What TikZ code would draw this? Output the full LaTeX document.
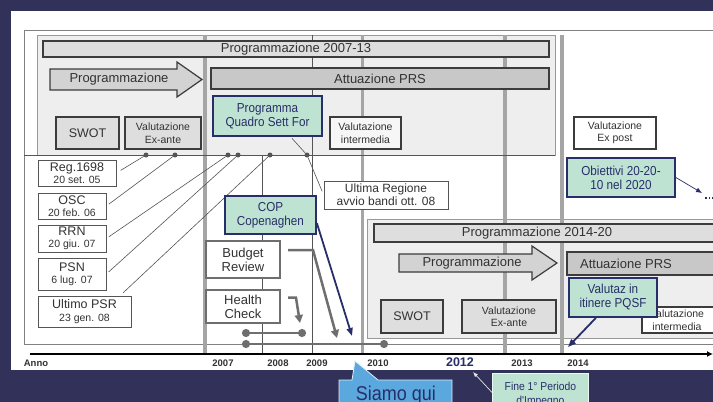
\documentclass[tikz,border=0pt]{standalone}
\usepackage{fontspec}
\setmainfont{Liberation Sans}
\newfontfamily\narrowfont[FakeStretch=0.9]{Liberation Sans}
\usetikzlibrary{arrows.meta}

\definecolor{bgnavy}{RGB}{50,49,90}
\definecolor{panelgray}{RGB}{238,238,238}
\definecolor{bargray}{RGB}{222,222,222}
\definecolor{attgray}{RGB}{200,200,200}
\definecolor{boxline}{RGB}{60,60,60}
\definecolor{txt}{RGB}{50,50,50}
\definecolor{mint}{RGB}{190,227,210}
\definecolor{navy}{RGB}{40,46,105}
\definecolor{vgray}{RGB}{165,165,165}
\definecolor{darkline}{RGB}{85,85,85}
\definecolor{arrgray}{RGB}{110,110,110}
\definecolor{skyblue}{RGB}{90,168,222}

\newcommand{\sottotesto}{\fontsize{10.5}{11}\selectfont}

\begin{document}
\begin{tikzpicture}[x=1pt,y=-1pt,>=latex,
	cornice/.style={draw=gray, line width=0.7pt},
	panel/.style={draw=gray!80, line width=0.6pt, fill=panelgray},
	yearline/.style={draw=vgray, line width=3.5pt},
	thinline/.style={draw=darkline, line width=0.7pt},
	bar/.style={draw=boxline, line width=1.8pt, fill=bargray, text=txt, font=\fontsize{13}{14}\selectfont, inner sep=0pt},
	bigtxt/.style={text=txt, font=\fontsize{13}{14}\selectfont},
	bigarrow/.style={draw=boxline, line width=1.2pt, fill=attgray!80, line join=miter},
	box/.style={draw=boxline, line width=1.8pt, fill=bargray, text=txt, align=center, inner sep=0pt, font=\fontsize{12.5}{14}\selectfont},
	smalltxt/.style={text=txt, align=center, font=\fontsize{10.5}{12.5}\selectfont},
	greenbox/.style={draw=navy, line width=1.8pt, fill=mint, text=navy, align=center, inner sep=0pt, font=\narrowfont\fontsize{13}{14}\selectfont},
	datebox/.style={draw=darkline, line width=0.7pt, fill=white, text=txt, align=center, inner sep=0pt, font=\fontsize{12.5}{12.5}\selectfont},
	graybox/.style={draw=arrgray, line width=2pt, fill=white, text=txt, align=center, inner sep=0pt, font=\fontsize{13}{14}\selectfont},
	dot/.style={circle, fill=darkline, inner sep=0pt, minimum size=5pt},
	lead/.style={draw=darkline, line width=0.6pt},
	grayarrow/.style={draw=arrgray, line width=2.5pt, -{Triangle[length=8pt,width=8pt]}},
	navyarrow/.style={draw=navy, line width=1.8pt, -{Triangle[length=8pt,width=6pt]}},
	dotbar/.style={draw=arrgray, line width=2pt, {Circle[length=8pt]}-{Circle[length=8pt]}},
	year/.style={text=txt, font=\bfseries\fontsize{9.5}{10}\selectfont}]
			%%%	Sfondo
			\useasboundingbox (0,0) rectangle (713,402);
			\clip (0,0) rectangle (713,402);
			\fill[bgnavy] (0,0) rectangle (713,402);
			\fill[white] (11,11) rectangle (713,370);
			\draw[cornice] (713,30) -- (24,30) -- (24,344) -- (713,344);

			%%%	Pannelli
			\draw[panel] (37,35) rectangle (555,155);
			\draw[panel] (367,219) rectangle (718,338);

			%%%	Linee degli anni
			\draw[yearline] (205,35) -- (205,354);
			\draw[thinline] (262,155) -- (262,354);
			\draw[thinline] (312,35) -- (312,354);
			\draw[yearline, line width=3pt] (362,35) -- (362,354);
			\draw[yearline] (505,35) -- (505,354);
			\draw[yearline] (562,35) -- (562,354);
			\draw[thinline] (24,155) -- (555,155);
			\draw[line width=2.5pt, -{Latex[length=6pt,width=6pt]}] (30,354) -- (713,354);

			%%%	Programmazione 2007-13
			\node[bar, minimum width=506, minimum height=16] (prog1) at (296,49) {Programmazione 2007-13};
			\draw[bigarrow] (50,69) -- (177,69) -- (177,62) -- (202,79.5) -- (177,97) -- (177,90) -- (50,90) -- cycle;
			\node[bigtxt] (arr1) at (119,79.5) {Programmazione};
			\node[bar, fill=attgray, minimum width=338, minimum height=21] (att1) at (380,78.5) {Attuazione PRS};
			\node[box, minimum width=63, minimum height=32] (swot1) at (87.5,133) {SWOT};
			\node[box, smalltxt, minimum width=76, minimum height=32] (exa1) at (163,133) {Valutazione\\Ex-ante};
			\node[box, smalltxt, fill=panelgray!50, minimum width=71, minimum height=32] (int1) at (365.5,133) {Valutazione\\intermedia};
			\node[box, smalltxt, fill=white, minimum width=82, minimum height=32] (expost) at (615,133) {Valutazione\\Ex post};
			\node[greenbox, minimum width=109, minimum height=40] (pqsf1) at (267.5,116) {Programma\\Quadro Sett For};

			%%%	Date
			\node[datebox, minimum width=78, minimum height=26] (reg) at (77,173) {Reg.1698\\{\sottotesto 20 set. 05}};
			\node[datebox, minimum width=68, minimum height=26] (osc) at (72,206) {OSC\\{\sottotesto 20 feb. 06}};
			\node[datebox, minimum width=68, minimum height=27] (rrn) at (72,238.5) {RRN\\{\sottotesto 20 giu. 07}};
			\node[datebox, minimum width=68, minimum height=32] (psn) at (72,274) {PSN\\{\sottotesto 6 lug. 07}};
			\node[datebox, minimum width=93, minimum height=31] (psr) at (84.5,311.5) {Ultimo PSR\\{\sottotesto 23 gen. 08}};
			\node[datebox, font=\fontsize{12}{13}\selectfont, minimum width=124, minimum height=28] (ult) at (386,195) {Ultima Regione\\avvio bandi ott. 08};

			\node[dot] (d1) at (146,155) {};
			\node[dot] (d2) at (175,155) {};
			\node[dot] (d3) at (228,155) {};
			\node[dot] (d4) at (238,155) {};
			\node[dot] (d5) at (270,155) {};
			\node[dot] (d6) at (307,155) {};
			\draw[lead, shorten <=5pt] (reg.east) -- (d1);
			\draw[lead, shorten <=3pt] (osc.east) -- (d2);
			\draw[lead, shorten <=3pt] (rrn.east) -- (d3);
			\draw[lead, shorten <=3pt] (psn.east) -- (d4);
			\draw[lead, shorten <=4pt] (psr.24) -- (d5);
			\draw[lead, shorten <=2pt] (pqsf1.-42) -- (d6);
			\draw[lead, shorten >=4pt] (d6) -- (ult.west);

			%%%	COP, Budget Review, Health Check
			\node[greenbox, minimum width=91, minimum height=38] (cop) at (270.5,215) {COP\\Copenaghen};
			\node[graybox, minimum width=74, minimum height=37] (bud) at (243,259.5) {Budget\\Review};
			\node[graybox, minimum width=74, minimum height=33] (hc) at (243,306.5) {Health\\Check};
			\coordinate (budtip) at (337,338);
			\coordinate (hctip) at (300,323);
			\coordinate (coptip) at (352,336);
			\draw[grayarrow] (bud.14) ++(7,0) -- ++(25,0) -- (budtip);
			\draw[grayarrow] (hc.13) ++(7,0) -- ++(8,0) -- (hctip);
			\draw[navyarrow] (cop.-10) -- (coptip);
			\coordinate (hcl) at (242,333);
			\coordinate (hcr) at (306,333);
			\coordinate (brl) at (242,344);
			\coordinate (brr) at (388,344);
			\draw[dotbar] (hcl) -- (hcr);
			\draw[dotbar] (brl) -- (brr);

			%%%	Obiettivi 2020
			\node[greenbox, minimum width=108, minimum height=39] (obj) at (621,177.5) {Obiettivi 20-20-\\10 nel 2020};
			\coordinate (objtip) at (702,193);
			\draw[navy, line width=0.7pt, -{Latex[length=6pt,width=5pt]}] (obj.east) -- (objtip);
			\draw[navy, line width=1.5pt, dotted] (705,198) -- (713,198);

			%%%	Programmazione 2014-20
			\draw[bar] (374,224) rectangle (718,242);
			\node[bigtxt] (prog2) at (537,233) {Programmazione 2014-20};
			\draw[bigarrow] (399,254) -- (532,254) -- (532,246) -- (557,263) -- (532,280) -- (532,272) -- (399,272) -- cycle;
			\node[bigtxt] (arr2) at (472,263) {Programmazione};
			\draw[bar, fill=attgray] (567,252) rectangle (718,275);
			\node[bigtxt] (att2) at (626,263.5) {Attuazione PRS};
			\node[box, minimum width=62, minimum height=33] (swot2) at (412,316.5) {SWOT};
			\node[box, smalltxt, minimum width=94, minimum height=33] (exa2) at (509,316.5) {Valutazione\\Ex-ante};
			\draw[box, fill=white] (642,307) rectangle (718,333);
			\node[smalltxt] (int2) at (677,320) {Valutazione\\intermedia};
			\node[greenbox, minimum width=88, minimum height=39] (pqsf2) at (613,297.5) {Valutaz in\\itinere PQSF};
			\coordinate (pqsftip) at (568,347);
			\draw[navyarrow] (pqsf2.-130) -- (pqsftip);

			%%%	Anni
			\node[year] (anno) at (36,363) {Anno};
			\node[year] (y2007) at (223,363) {2007};
			\node[year] (y2008) at (278,363) {2008};
			\node[year] (y2009) at (317,363) {2009};
			\node[year] (y2010) at (378,363) {2010};
			\node[year, text=navy, font=\bfseries\fontsize{12.5}{13}\selectfont] (y2012) at (460,362) {2012};
			\node[year] (y2013) at (522,363) {2013};
			\node[year] (y2014) at (578,363) {2014};

			%%%	Siamo qui, Fine 1° Periodo
			\draw[draw=white!80!skyblue, line width=0.8pt, fill=skyblue] (339,380) -- (352,380) -- (355,361) -- (378,380) -- (452,380) -- (452,406) -- (339,406) -- cycle;
			\node[text=navy, font=\narrowfont\fontsize{20}{20}\selectfont] (qui) at (396,395) {Siamo qui};
			\node[greenbox, draw=white!70!mint, line width=0.8pt, font=\narrowfont\fontsize{11.5}{14}\selectfont, minimum width=96, minimum height=42, anchor=north west] (fine) at (492,373) {Fine 1° Periodo\\d'Impegno};
			\coordinate (finetip) at (473,372);
			\draw[white!80!gray, line width=0.7pt, -{Latex[length=5pt,width=4pt]}] (fine.west) ++(0,-2) -- (finetip);
		\end{tikzpicture}
\end{document}
